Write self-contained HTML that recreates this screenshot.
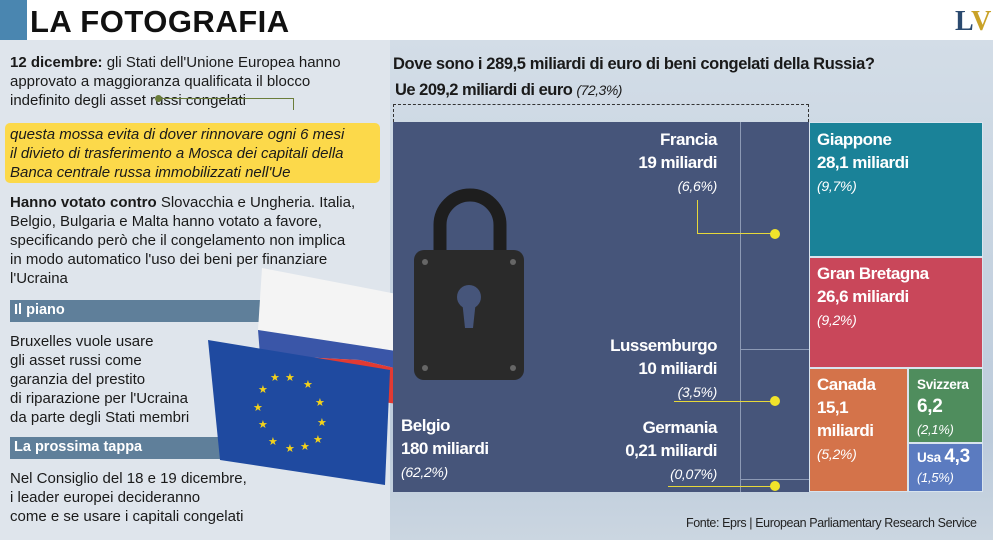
<!DOCTYPE html>
<html><head><meta charset="utf-8"><style>
*{margin:0;padding:0;box-sizing:border-box}
body{width:993px;height:540px;overflow:hidden;background:#fff;font-family:"Liberation Sans",sans-serif;position:relative}
.a{position:absolute;white-space:nowrap}
.lt{font-size:15px;line-height:19px;color:#1a1a1a;letter-spacing:0px}
.bar{background:#5f7f9a;color:#fff;font-weight:bold;font-size:14.5px;padding:2px 4px;height:22px}
.lab{color:#fff;font-weight:bold;font-size:17px;line-height:23px;letter-spacing:-0.5px}
.pc{font-style:italic;font-weight:normal;font-size:14px;letter-spacing:-0.3px}
</style></head><body>
<div class="a" style="left:0;top:0;width:27px;height:40px;background:#4a86b0"></div>
<div class="a" style="left:30px;top:4px;font-size:31px;font-weight:900;letter-spacing:0.5px;color:#111">LA FOTOGRAFIA</div>
<div class="a" style="left:955px;top:6px;font-family:'Liberation Serif',serif;font-weight:bold;font-size:28px;color:#2b4a6f">L<span style="color:#c9a227">V</span></div>
<div class="a" style="left:0;top:40px;width:390px;height:500px;background:#dfe5ec"></div>
<div class="a" style="left:390px;top:40px;width:603px;height:500px;background:linear-gradient(#d3dde7,#bccbdb 80%,#cbd6e1)"></div>

<div class="a lt" style="left:10px;top:53px"><b>12 dicembre:</b> gli Stati dell'Unione Europea hanno<br>approvato a maggioranza qualificata il blocco<br>indefinito degli asset russi congelati</div>
<div class="a" style="left:157px;top:98px;width:137px;height:12px;border-top:1px solid #6b7d3a;border-right:1px solid #6b7d3a"></div>
<div class="a" style="left:155px;top:95px;width:7px;height:7px;border-radius:50%;background:#6b7d3a"></div>
<div class="a lt" style="left:5px;top:123px;width:375px;height:60px;background:#fcd94a;border-radius:5px;padding:2px 5px;font-style:italic">questa mossa evita di dover rinnovare ogni 6 mesi<br>il divieto di trasferimento a Mosca dei capitali della<br>Banca centrale russa immobilizzati nell'Ue</div>
<div class="a lt" style="left:10px;top:193px"><b>Hanno votato contro</b> Slovacchia e Ungheria. Italia,<br>Belgio, Bulgaria e Malta hanno votato a favore,<br>specificando però che  il congelamento non implica<br>in modo automatico l'uso dei beni per finanziare<br>l'Ucraina</div>
<div class="a bar" style="left:10px;top:300px;width:255px">Il piano</div>
<div class="a lt" style="left:10px;top:332px">Bruxelles vuole usare<br>gli asset russi come<br>garanzia del prestito<br>di riparazione per l'Ucraina<br>da parte degli Stati membri</div>
<div class="a bar" style="left:10px;top:437px;width:245px">La prossima tappa</div>
<div class="a lt" style="left:10px;top:469px">Nel Consiglio del 18 e 19 dicembre,<br>i leader europei decideranno<br>come e se usare i capitali congelati</div>

<svg class="a" style="left:200px;top:260px" width="230" height="230">
<polygon points="62,8 228,40 222,95 58,70" fill="#f4f4f4"/>
<polygon points="58,70 222,95 225,115 160,100 60,95" fill="#3a56a8"/>
<polygon points="60,95 160,100 225,115 205,145 60,125" fill="#e23a32"/>
<polygon points="8,80 190,110 185,225 20,200" fill="#1f4aa0"/>
<g fill="#f4d21a" font-size="11">
<text x="70" y="121">★</text><text x="85" y="121">★</text><text x="103" y="128">★</text>
<text x="58" y="133">★</text><text x="115" y="146">★</text><text x="53" y="151">★</text>
<text x="117" y="166">★</text><text x="58" y="168">★</text><text x="113" y="183">★</text>
<text x="68" y="185">★</text><text x="85" y="192">★</text><text x="100" y="190">★</text>
</g>
</svg>

<div class="a" style="left:393px;top:55px;font-size:16.5px;font-weight:bold;color:#1a1a1a;letter-spacing:-0.4px">Dove sono i 289,5 miliardi di euro di beni congelati della Russia?</div>
<div class="a" style="left:395px;top:81px;font-size:16.5px;font-weight:bold;color:#1a1a1a;letter-spacing:-0.5px">Ue 209,2 miliardi di euro <span style="font-weight:normal;font-style:italic;font-size:14px">(72,3%)</span></div>
<div class="a" style="left:393px;top:104px;width:416px;height:18px;border:1px dashed #333;border-bottom:none"></div>

<div class="a" style="left:393px;top:122px;width:416px;height:370px;background:#46557a"></div>
<div class="a" style="left:740px;top:122px;width:1px;height:370px;background:#8d9ab5"></div>
<div class="a" style="left:740px;top:349px;width:69px;height:1px;background:#8d9ab5"></div>
<div class="a" style="left:740px;top:479px;width:69px;height:1px;background:#8d9ab5"></div>
<div class="a" style="left:809px;top:122px;width:174px;height:135px;background:#1a8298;border:1px solid #d8e4ee"></div>
<div class="a" style="left:809px;top:257px;width:174px;height:111px;background:#c9475a;border:1px solid #d8e4ee"></div>
<div class="a" style="left:809px;top:368px;width:99px;height:124px;background:#d4734a;border:1px solid #d8e4ee"></div>
<div class="a" style="left:908px;top:368px;width:75px;height:75px;background:#4f8d5d;border:1px solid #d8e4ee"></div>
<div class="a" style="left:908px;top:443px;width:75px;height:49px;background:#5b7bc0;border:1px solid #d8e4ee"></div>

<svg class="a" style="left:410px;top:180px" width="120" height="205">
<path d="M30,75 V45 A30,30 0 0 1 90,45 V75" fill="none" stroke="#1e1e1e" stroke-width="13"/>
<rect x="4" y="70" width="110" height="130" rx="10" fill="#2a2a2a"/>
<circle cx="15" cy="82" r="3" fill="#666"/><circle cx="103" cy="82" r="3" fill="#666"/>
<circle cx="15" cy="188" r="3" fill="#666"/><circle cx="103" cy="188" r="3" fill="#666"/>
<circle cx="59" cy="117" r="12" fill="#46557a"/><polygon points="52,120 66,120 63,148 55,148" fill="#46557a"/>
</svg>

<div class="a lab" style="left:580px;top:128px;width:137px;text-align:right">Francia<br>19 miliardi<br><span class="pc">(6,6%)</span></div>
<div class="a" style="left:697px;top:200px;width:78px;height:34px;border-left:1px solid #e6d83a;border-bottom:1px solid #e6d83a"></div>
<div class="a" style="left:770px;top:229px;width:10px;height:10px;border-radius:50%;background:#f1e32a"></div>
<div class="a lab" style="left:580px;top:334px;width:137px;text-align:right">Lussemburgo<br>10 miliardi<br><span class="pc">(3,5%)</span></div>
<div class="a" style="left:674px;top:401px;width:100px;height:1px;background:#e6d83a"></div>
<div class="a" style="left:770px;top:396px;width:10px;height:10px;border-radius:50%;background:#f1e32a"></div>
<div class="a lab" style="left:580px;top:416px;width:137px;text-align:right">Germania<br>0,21 miliardi<br><span class="pc">(0,07%)</span></div>
<div class="a" style="left:668px;top:486px;width:106px;height:1px;background:#e6d83a"></div>
<div class="a" style="left:770px;top:481px;width:10px;height:10px;border-radius:50%;background:#f1e32a"></div>
<div class="a lab" style="left:401px;top:414px">Belgio<br>180 miliardi<br><span class="pc">(62,2%)</span></div>

<div class="a lab" style="left:817px;top:128px">Giappone<br>28,1 miliardi<br><span class="pc">(9,7%)</span></div>
<div class="a lab" style="left:817px;top:262px">Gran Bretagna<br>26,6 miliardi<br><span class="pc">(9,2%)</span></div>
<div class="a lab" style="left:817px;top:373px">Canada<br>15,1<br>miliardi<br><span class="pc">(5,2%)</span></div>
<div class="a lab" style="left:917px;top:374px;font-size:13.5px;line-height:22px;letter-spacing:-0.3px">Svizzera<br><span style="font-size:19px">6,2</span><br><span class="pc" style="font-size:13px">(2,1%)</span></div>
<div class="a lab" style="left:917px;top:447px;font-size:13.5px;line-height:20px;letter-spacing:-0.3px">Usa <span style="font-size:19px">4,3</span><br><span class="pc" style="font-size:13px">(1,5%)</span></div>

<div class="a" style="left:686px;top:516px;font-size:12.5px;color:#222;letter-spacing:-0.4px">Fonte: Eprs | European Parliamentary Research Service</div>
</body></html>
